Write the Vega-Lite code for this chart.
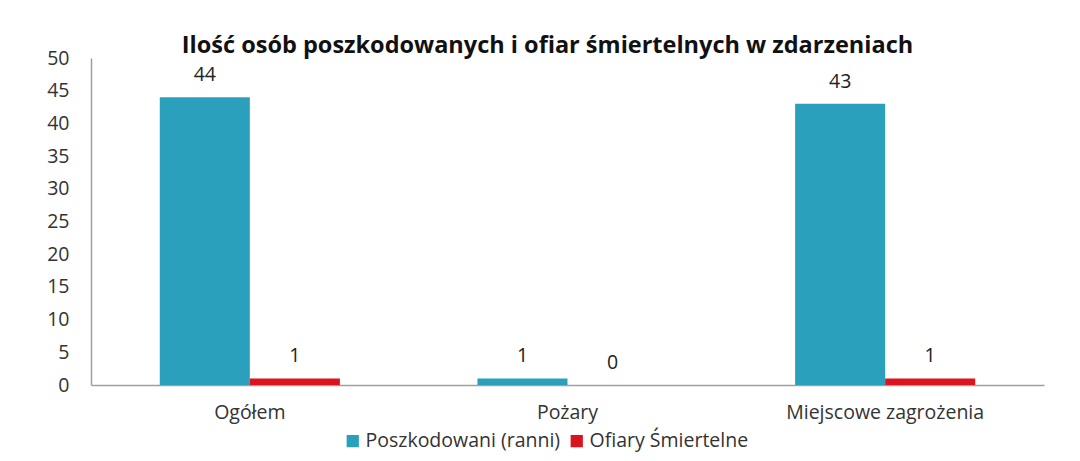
{
  "$schema": "https://vega.github.io/schema/vega-lite/v6.json",
  "width": 953,
  "height": 327,
  "autosize": "none",
  "padding": {"left": 91, "top": 58, "right": 36, "bottom": 76},
  "background": "white",
  "title": {
    "text": "Ilość osób poszkodowanych i ofiar śmiertelnych w zdarzeniach",
    "font": "Open Sans",
    "fontSize": 23.5,
    "fontWeight": "bold",
    "color": "#111111",
    "anchor": "middle",
    "dx": -20,
    "offset": 0,
    "dy": 9
  },
  "data": {
    "values": [
      {"kategoria": "Ogółem", "seria": "Poszkodowani (ranni)", "wartosc": 44},
      {"kategoria": "Ogółem", "seria": "Ofiary Śmiertelne", "wartosc": 1},
      {"kategoria": "Pożary", "seria": "Poszkodowani (ranni)", "wartosc": 1},
      {"kategoria": "Pożary", "seria": "Ofiary Śmiertelne", "wartosc": 0},
      {"kategoria": "Miejscowe zagrożenia", "seria": "Poszkodowani (ranni)", "wartosc": 43},
      {"kategoria": "Miejscowe zagrożenia", "seria": "Ofiary Śmiertelne", "wartosc": 1}
    ]
  },
  "encoding": {
    "x": {
      "field": "kategoria",
      "type": "nominal",
      "sort": ["Ogółem", "Pożary", "Miejscowe zagrożenia"],
      "scale": {"paddingInner": 0.433, "paddingOuter": 0.2165},
      "axis": {
        "title": null,
        "labelAngle": 0,
        "ticks": false,
        "labelPadding": 18,
        "labelLimit": 0,
        "labelFont": "Open Sans",
        "labelFontSize": 19.5,
        "labelColor": "#333333",
        "domainColor": "#A0A0A0",
        "domainWidth": 1.5
      }
    },
    "xOffset": {
      "field": "seria",
      "type": "nominal",
      "sort": ["Poszkodowani (ranni)", "Ofiary Śmiertelne"],
      "scale": {"paddingInner": 0, "paddingOuter": 0}
    },
    "y": {
      "field": "wartosc",
      "type": "quantitative",
      "scale": {"domain": [0, 50]},
      "axis": {
        "title": null,
        "values": [0, 5, 10, 15, 20, 25, 30, 35, 40, 45, 50],
        "ticks": false,
        "grid": false,
        "labelPadding": 22,
        "labelFont": "Open Sans",
        "labelFontSize": 19.5,
        "labelColor": "#333333",
        "domainColor": "#A0A0A0",
        "domainWidth": 1.5
      }
    }
  },
  "layer": [
    {
      "mark": {"type": "bar"},
      "encoding": {
        "color": {
          "field": "seria",
          "type": "nominal",
          "scale": {
            "domain": ["Poszkodowani (ranni)", "Ofiary Śmiertelne"],
            "range": ["#2BA0BD", "#DC141E"]
          },
          "legend": {
            "title": null,
            "orient": "none",
            "direction": "horizontal",
            "legendX": 252,
            "legendY": 373,
            "symbolType": "square",
            "symbolSize": 150,
            "symbolStrokeWidth": 0,
            "labelFont": "Open Sans",
            "labelFontSize": 19.5,
            "labelColor": "#333333",
            "labelLimit": 0,
            "columnPadding": 6,
            "labelOffset": 3
          }
        }
      }
    },
    {
      "mark": {
        "type": "text",
        "baseline": "bottom",
        "dy": -12,
        "font": "Open Sans",
        "fontSize": 19.5,
        "color": "#222222"
      },
      "encoding": {
        "text": {"field": "wartosc", "type": "quantitative"}
      }
    }
  ],
  "config": {
    "view": {"stroke": null}
  }
}
